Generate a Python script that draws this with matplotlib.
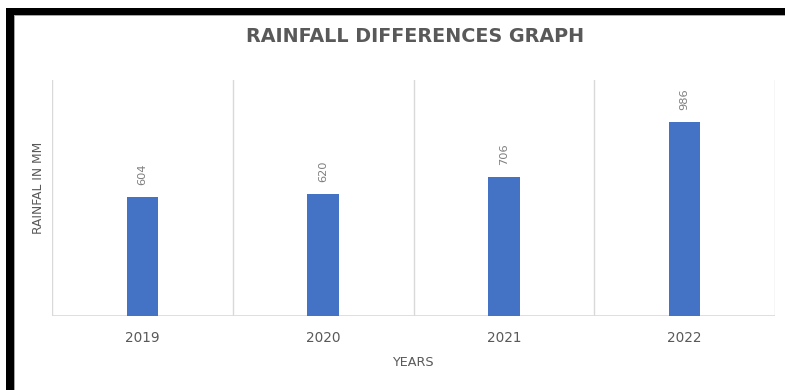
import matplotlib.pyplot as plt
from matplotlib.patches import Rectangle

years = ["2019", "2020", "2021", "2022"]
rainfall = [604, 620, 706, 986]

title = "RAINFALL DIFFERENCES GRAPH"
x_label = "YEARS"
y_label = "RAINFAL IN MM"

bar_color = "#4472C4"
text_color = "#595959"
grid_color = "#D9D9D9"

plt.rcParams['font.family'] = ['DejaVu Sans']

W, H = 785, 390
fig = plt.figure(figsize=(W / 100, H / 100), dpi=100)
ax = fig.add_axes([52 / W, 74 / H, 723 / W, 236 / H])

pos = list(range(len(years)))
bars = ax.bar(pos, rainfall, width=0.175, color=bar_color, zorder=3)

ax.set_xlim(-0.5, len(years) - 0.5)
ax.set_ylim(0, 1200)

# category separators
for b in [p - 0.5 for p in pos] + [len(years) - 0.5]:
    ax.axvline(b, color=grid_color, lw=1, zorder=1)

for sp in ax.spines.values():
    sp.set_visible(False)
ax.axhline(0, color=grid_color, lw=1.2, zorder=2)

ax.set_yticks([])
ax.set_xticks(pos)
ax.set_xticklabels(years, color=text_color, fontsize=9.8)
ax.tick_params(axis='x', length=0, pad=11)

# value labels above bars
for rect, v in zip(bars, rainfall):
    ax.annotate(str(v), (rect.get_x() + rect.get_width() / 2, v),
                xytext=(0, 8.5), textcoords='offset points',
                rotation=90, ha='center', va='bottom',
                color='#7F7F7F', fontsize=8.2)

fig.text(415 / W, 1 - 36.5 / H, title, ha='center', va='center',
         fontsize=13.8, fontweight='bold', color=text_color)
fig.text(413 / W, 1 - 362 / H, x_label, ha='center', va='center',
         fontsize=9.2, color=text_color)
fig.text(38 / W, 1 - 188 / H, y_label, ha='center', va='center',
         rotation=90, fontsize=8.8, color=text_color)


def px_rect(x0, y0, x1, y1, color):
    # rectangle given in pixel coords measured from the top-left corner
    fig.patches.append(Rectangle((x0 / W, 1 - y1 / H), (x1 - x0) / W,
                                 (y1 - y0) / H, transform=fig.transFigure,
                                 color=color, lw=0))


# frame edges of the chart area
px_rect(14, 15, W, 16.2, '#A6A6A6')
px_rect(14, 15, 15.2, H, '#A6A6A6')
px_rect(6, 8, W, 15, 'black')
px_rect(6, 8, 14, H, 'black')

fig.savefig("out.png", dpi=100)
